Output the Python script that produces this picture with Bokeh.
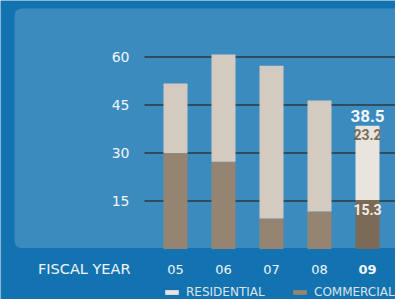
from bokeh.plotting import figure
from bokeh.models import Range1d, ColumnDataSource, BoxAnnotation, Legend, LegendItem
from bokeh.core.properties import value
from bokeh.embed import file_html
from bokeh.resources import INLINE

# ---- data ----
years = ["05", "06", "07", "08", "09"]
commercial = [29.9, 27.3, 9.5, 11.7, 15.3]
residential = [21.8, 33.5, 47.8, 34.7, 23.2]
y_ticks = [15, 30, 45, 60]
y_tick_labels = ["15", "30", "45", "60"]
axis_title = "FISCAL YEAR"
series_names = ["RESIDENTIAL", "COMMERCIAL"]

# ---- styles ----
OUTER = "#1373b1"
PANEL = "#3b8bbf"
RES_C = "#d3cbc0"
RES_HI = "#e8e4de"
COM_C = "#958471"
COM_HI = "#7b6a56"
GRID_C = "#2b3844"
TXT = "#f2f6f9"
HI = len(years) - 1

W, H = 395, 299
X0_PX, STEP = 175, 48          # first bar centre and spacing (px)
Y0_PX, PPU = 248.5, 3.2        # zero line and px per unit

idx = list(range(len(years)))
totals = [round(c + r, 1) for c, r in zip(commercial, residential)]
res_colors = [RES_HI if i == HI else RES_C for i in idx]
com_colors = [COM_HI if i == HI else COM_C for i in idx]
font_styles = ["bold" if i == HI else "normal" for i in idx]

src = ColumnDataSource(dict(x=idx, years=years, com=commercial, tot=totals,
                            rc=res_colors, cc=com_colors, fs=font_styles,
                            zero=[0] * len(idx), labely=[0] * len(idx)))

p = figure(width=W, height=H, output_backend="svg", toolbar_location=None,
           x_range=Range1d(-X0_PX / STEP, (W - X0_PX) / STEP),
           y_range=Range1d(-(H - Y0_PX) / PPU, Y0_PX / PPU),
           x_axis_location=None, y_axis_location=None,
           min_border=0, margin=0)
p.grid.visible = False
p.outline_line_color = None
p.background_fill_color = OUTER
p.border_fill_color = OUTER

# lighter rounded panel
p.add_layout(BoxAnnotation(left=(14 - X0_PX) / STEP, right=10,
                           top=(Y0_PX - 8) / PPU, bottom=(Y0_PX - 247.5) / PPU,
                           fill_color=PANEL, fill_alpha=1, line_color=None,
                           border_radius=7, level="underlay"))

# gridlines
gx0 = (144 - X0_PX) / STEP
p.segment(x0=[gx0] * len(y_ticks), x1=[10] * len(y_ticks), y0=y_ticks, y1=y_ticks,
          line_color=GRID_C, line_width=1.3)

# y tick labels
p.text(x=[0] * len(y_ticks), y=y_ticks, text=y_tick_labels, x_offset=-46,
       text_align="right", text_baseline="middle", text_color=TXT,
       text_font=value("DejaVu Sans"), text_font_size="14px")

# bars
r_com = p.vbar(x="x", width=0.5, bottom="zero", top="com", fill_color="cc",
               line_color=None, source=src)
r_res = p.vbar(x="x", width=0.5, bottom="com", top="tot", fill_color="rc",
               line_color=None, source=src)

# category labels
p.text(x="x", y="labely", text="years", y_offset=20, text_align="center",
       text_baseline="middle", text_color=TXT, text_font=value("DejaVu Sans"),
       text_font_size="13px", text_font_style="fs", source=src)
p.text(x=[0], y=[0], text=[axis_title], x_offset=-45, y_offset=20,
       text_align="right", text_baseline="middle", text_color=TXT,
       text_font=value("DejaVu Sans"), text_font_size="14.5px")

# highlighted year value labels
narrow = value("Roboto")
p.text(x=[idx[HI]], y=[totals[HI]], text=[f"{totals[HI]:.1f}"], y_offset=-10,
       text_align="center", text_baseline="middle", text_color="#f4f7fa",
       text_font=narrow, text_font_size="17px", text_font_style="bold")
p.text(x=[idx[HI]], y=[totals[HI]], text=[f"{residential[HI]:.1f}"], y_offset=9,
       text_align="center", text_baseline="middle", text_color="#7b6a56",
       text_font=narrow, text_font_size="14px", text_font_style="bold")
p.text(x=[idx[HI]], y=[commercial[HI]], text=[f"{commercial[HI]:.1f}"], y_offset=9,
       text_align="center", text_baseline="middle", text_color="#f4efe6",
       text_font=narrow, text_font_size="14px", text_font_style="bold")

# legends
def mk_legend(name, rend, index, x):
    lg = Legend(items=[LegendItem(label=name, renderers=[rend], index=index)],
                location=(x, 0), orientation="horizontal",
                glyph_width=17, glyph_height=6, label_height=10, label_standoff=6,
                padding=0, margin=0, spacing=0,
                label_text_font="DejaVu Sans", label_text_font_size="12px",
                label_text_color="#dbe4ea", label_text_baseline="middle",
                background_fill_alpha=0, border_line_color=None)
    p.add_layout(lg)

mk_legend(series_names[0], r_res, HI, 163)
mk_legend(series_names[1], r_com, 0, 291)

open("out.html", "w").write(file_html(p, INLINE))
